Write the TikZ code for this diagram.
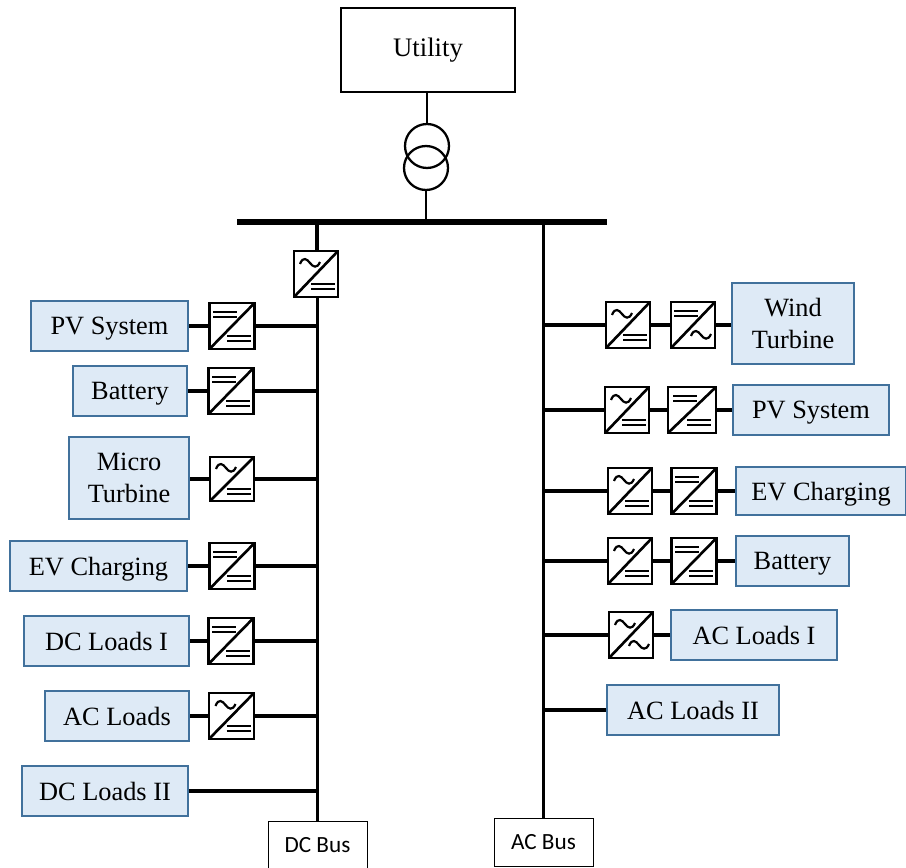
\documentclass[tikz,border=0pt]{standalone}
\usepackage{fontspec}
\usepackage{xcolor}
\usetikzlibrary{positioning}
\setmainfont{Liberation Serif}
\newfontfamily\busfont{Carlito}
\definecolor{boxfill}{RGB}{222,234,246}
\definecolor{boxedge}{RGB}{65,113,156}
% converter symbols, px from the centre of the square
\newcommand{\acup}{\draw[line width=1.25pt] (-16,-10) .. controls (-13,-18) and (-9,-15) .. (-6,-11) .. controls (-3,-7) and (1,-5) .. (4,-12);}
\newcommand{\aclow}{\draw[line width=1.25pt] (-2,11) .. controls (1,3) and (5,6) .. (8,10) .. controls (11,14) and (15,16) .. (18,9);}
\newcommand{\dcup}{\draw[line width=1.25pt] (-19,-14) -- (5,-14) (-19,-9) -- (5,-9);}
\newcommand{\dclow}{\draw[line width=1.25pt] (-5,10) -- (19,10) (-5,15) -- (19,15);}

\begin{document}
\begin{tikzpicture}[
  x=0.02cm, y=-0.02cm,
  font=\fontsize{15}{18}\selectfont,
  wire/.style={line width=2pt},
  busline/.style={line width=2.2pt},
  loadbox/.style={draw=boxedge, fill=boxfill, line width=1.4pt, align=center, minimum height=1cm, inner sep=0pt, text depth=0pt},
  busbox/.style={draw, line width=0.5pt, minimum width=1.98cm, minimum height=0.96cm, font=\busfont\fontsize{13.2}{15}\selectfont},
  convbox/.style 2 args={draw, fill=white, line width=1.6pt, inner sep=0pt, outer sep=0pt, minimum width=0.9cm, minimum height=0.92cm,
    path picture={\begin{scope}[shift={(path picture bounding box.center)}]
      \draw[line width=1.5pt] (path picture bounding box.south west) -- (path picture bounding box.north east);
      #1 #2
    \end{scope}}},
  acdc/.style={convbox={\acup}{\dclow}},
  dcdc/.style={convbox={\dcup}{\dclow}},
  dcac/.style={convbox={\dcup}{\aclow}},
  acac/.style={convbox={\acup}{\aclow}}
]
\useasboundingbox (0,0) rectangle (906,868);

% ---- Utility and transformer ----
\node[draw, line width=1pt, minimum width=3.48cm, minimum height=1.68cm, font=\fontsize{15.2}{18}\selectfont] (utility) at (428,50) {Utility};
\node[draw, circle, line width=1.3pt, minimum size=0.88cm, inner sep=0pt] (xfup) at (427,146) {};
\node[draw, circle, line width=1.3pt, minimum size=0.88cm, inner sep=0pt] (xflow) at (426,168) {};
\coordinate (barleft) at (237,222);
\coordinate (barright) at (607,222);
\draw[line width=3.4pt] (barleft) -- (barright);
\draw[line width=1.5pt] (utility.south -| xfup) -- (xfup.north);
\draw[line width=1.5pt] (xflow.south) -- (xflow.south |- barleft);

% ---- DC bus ----
\node[busbox] (dcbus) at (317.5,845) {DC Bus};
\node[acdc, minimum width=0.88cm] (topconv) at (316,274) {};
\coordinate (dctop) at (317,222);
\draw[busline] (dctop) -- (dctop |- topconv.north);
\draw[busline] (topconv.south -| dcbus) -- (dcbus.north);

% ---- Left side ----
\node[loadbox, minimum width=3.14cm] (pvleft) at (109.5,326) {PV System};
\node[dcdc] (pvleftconv) at (232,326) {};
\draw[wire] (pvleft) -- (pvleftconv);
\draw[wire] (pvleftconv) -- (pvleftconv -| dcbus);

\node[loadbox, minimum width=2.28cm] (batleft) at (130,391) {Battery};
\node[dcdc] (batleftconv) at (231,391) {};
\draw[wire] (batleft) -- (batleftconv);
\draw[wire] (batleftconv) -- (batleftconv -| dcbus);

\node[loadbox, minimum width=2.4cm, minimum height=1.64cm] (micro) at (129,478) {Micro\\Turbine};
\node[acdc, minimum width=0.88cm, minimum height=0.88cm] (microconv) at (232,479) {};
\draw[wire] (microconv -| micro.east) -- (microconv);
\draw[wire] (microconv) -- (microconv -| dcbus);

\node[loadbox, minimum width=3.54cm] (evleft) at (98.5,566) {EV Charging};
\node[dcdc] (evleftconv) at (232,566) {};
\draw[wire] (evleft) -- (evleftconv);
\draw[wire] (evleftconv) -- (evleftconv -| dcbus);

\node[loadbox, minimum width=3.3cm] (dcone) at (106.5,641) {DC Loads I};
\node[dcdc] (dconeconv) at (231,641) {};
\draw[wire] (dcone) -- (dconeconv);
\draw[wire] (dconeconv) -- (dconeconv -| dcbus);

\node[loadbox, minimum width=2.88cm] (acleft) at (117,716) {AC Loads};
\node[acdc] (acleftconv) at (231.5,716) {};
\draw[wire] (acleft) -- (acleftconv);
\draw[wire] (acleftconv) -- (acleftconv -| dcbus);

\node[loadbox, minimum width=3.32cm] (dctwo) at (105,791) {DC Loads II};
\draw[wire] (dctwo) -- (dctwo -| dcbus);

% ---- AC bus ----
\node[busbox] (acbus) at (543.5,842.5) {AC Bus};
\draw[busline] (acbus.north |- barleft) -- (acbus.north);

% ---- Right side ----
\node[loadbox, minimum width=2.44cm, minimum height=1.62cm] (wind) at (793,323.5) {Wind\\Turbine};
\node[dcac, minimum width=0.88cm] (windconvb) at (693,325) {};
\node[acdc, minimum width=0.88cm] (windconva) at (628,325) {};
\draw[wire] (windconva -| acbus) -- (windconva);
\draw[wire] (windconva) -- (windconvb);
\draw[wire] (windconvb) -- (windconvb -| wind.west);

\node[loadbox, minimum width=3.12cm] (pvright) at (811,410) {PV System};
\node[dcdc, minimum width=0.96cm] (pvrightconvb) at (692,410) {};
\node[acdc, minimum width=0.88cm] (pvrightconva) at (627,410) {};
\draw[wire] (pvrightconva -| acbus) -- (pvrightconva);
\draw[wire] (pvrightconva) -- (pvrightconvb);
\draw[wire] (pvrightconvb) -- (pvright);

\node[loadbox, minimum width=3.4cm, minimum height=0.96cm] (evright) at (821,491) {EV Charging};
\node[dcdc] (evrightconvb) at (694,491) {};
\node[acdc, minimum width=0.88cm] (evrightconva) at (630,491) {};
\draw[wire] (evrightconva -| acbus) -- (evrightconva);
\draw[wire] (evrightconva) -- (evrightconvb);
\draw[wire] (evrightconvb) -- (evright);

\node[loadbox, minimum width=2.26cm] (batright) at (792.5,561) {Battery};
\node[dcdc] (batrightconvb) at (694,561) {};
\node[acdc, minimum width=0.88cm] (batrightconva) at (630,561) {};
\draw[wire] (batrightconva -| acbus) -- (batrightconva);
\draw[wire] (batrightconva) -- (batrightconvb);
\draw[wire] (batrightconvb) -- (batright);

\node[loadbox, minimum width=3.32cm] (acone) at (754,635) {AC Loads I};
\node[acac, minimum width=0.88cm] (aconeconv) at (631,635) {};
\draw[wire] (aconeconv -| acbus) -- (aconeconv);
\draw[wire] (aconeconv) -- (acone);

\node[loadbox, minimum width=3.44cm] (actwo) at (693,710) {AC Loads II};
\draw[wire] (actwo -| acbus) -- (actwo);
\end{tikzpicture}
\end{document}
